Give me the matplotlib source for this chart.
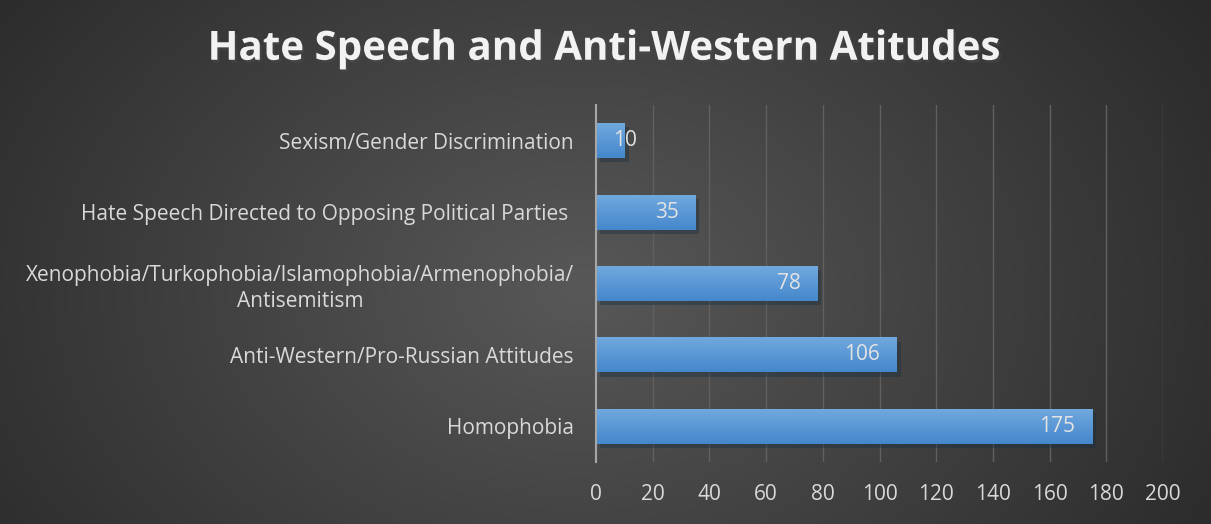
import numpy as np
import matplotlib.pyplot as plt
import matplotlib.patheffects as pe

# Datos
categorias = [
    "Homophobia",
    "Anti-Western/Pro-Russian Attitudes",
    "Xenophobia/Turkophobia/Islamophobia/Armenophobia/\nAntisemitism",
    "Hate Speech Directed to Opposing Political Parties ",
    "Sexism/Gender Discrimination",
]
valores = [175, 106, 78, 35, 10]
ticks_x = list(range(0, 201, 20))

plt.rcParams['font.family'] = ['Open Sans', 'DejaVu Sans']

fig = plt.figure(figsize=(12.11, 5.24), dpi=100)

# Fondo con degradado radial
bg = fig.add_axes([0, 0, 1, 1], zorder=-10)
yy, xx = np.mgrid[0:524, 0:1211]
r = np.sqrt(((xx - 580) / 900) ** 2 + ((yy - 290) / 650) ** 2)
g = np.clip(0.345 - 0.22 * r, 0.13, 0.345)
bg.imshow(np.dstack([g, g, g]), aspect='auto', extent=[0, 1, 0, 1])
bg.set_axis_off()

ax = fig.add_axes([0.4922, 0.1183, 0.4682, 0.6813])
ax.patch.set_alpha(0)

y = np.arange(len(categorias))
barras = ax.barh(y, valores, height=0.49, color='#5b9bd5', zorder=3,
                 path_effects=[pe.SimplePatchShadow(offset=(3, -3), alpha=0.4, rho=0.3), pe.Normal()])

# Degradado en cada barra (claro arriba, mas oscuro abajo)
grad = np.linspace(0, 1, 64).reshape(-1, 1)
top = np.array([0.44, 0.66, 0.87])
bot = np.array([0.27, 0.53, 0.80])
img = top * (1 - grad[..., None]) + bot * grad[..., None]
for b in barras:
    x0, y0 = b.get_x(), b.get_y()
    w, h = b.get_width(), b.get_height()
    im = ax.imshow(img, aspect='auto', extent=[x0, x0 + w, y0, y0 + h], zorder=4)
    im.set_clip_path(b)

for v, yi in zip(valores, y):
    if v < 20:
        ax.annotate(str(v), (0, yi), xytext=(12, 0), textcoords='offset points',
                    ha='left', va='center', color='#e3e3e3', fontsize=15, zorder=6)
    else:
        ax.annotate(str(v), (v, yi), xytext=(-12, 0), textcoords='offset points',
                    ha='right', va='center', color='#e3e3e3', fontsize=15, zorder=6)

ax.set_xlim(0, 200)
ax.set_ylim(-0.5, len(categorias) - 0.5)
ax.set_xticks(ticks_x)
ax.set_yticks(y)
ax.set_yticklabels(categorias, multialignment='center', linespacing=1.3)
ax.tick_params(axis='x', length=0, pad=16, labelsize=15, colors='#d9d9d9')
ax.tick_params(axis='y', length=0, pad=16, labelsize=15, colors='#d9d9d9')
ax.grid(axis='x', color='#606060', linewidth=1, zorder=0)
for s in ['top', 'right', 'bottom']:
    ax.spines[s].set_visible(False)
ax.spines['left'].set_color('#a6a6a6')
ax.spines['left'].set_linewidth(1.5)
ax.spines['left'].set_zorder(7)

fig.text(0.498, 0.906, "Hate Speech and Anti-Western Atitudes", ha='center', va='center',
         fontsize=29, fontweight='bold', color='#f2f2f2',
         path_effects=[pe.withSimplePatchShadow(offset=(1.5, -2), alpha=0.6)])

plt.savefig('out.png', dpi=100)
